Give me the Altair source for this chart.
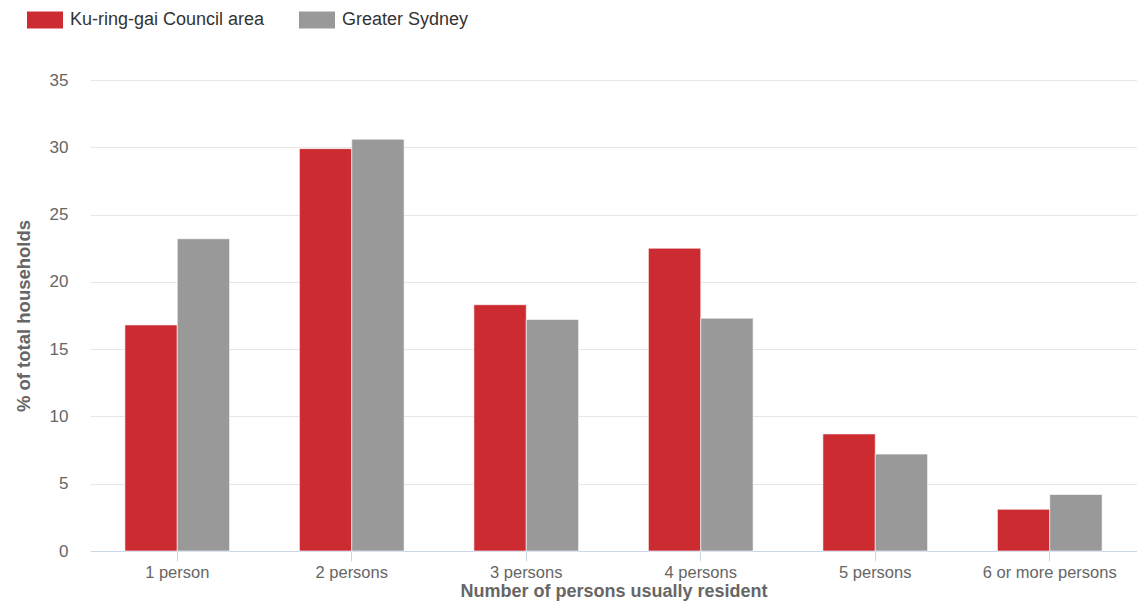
import altair as alt
import pandas as pd

categories = ["1 person", "2 persons", "3 persons", "4 persons", "5 persons", "6 or more persons"]
series = ["Ku-ring-gai Council area", "Greater Sydney"]
kuringgai = [16.8, 29.9, 18.3, 22.5, 8.7, 3.1]
sydney = [23.2, 30.6, 17.2, 17.3, 7.2, 4.2]
y_ticks = [0, 5, 10, 15, 20, 25, 30, 35]
colors = ["#cc2b31", "#999999"]

rows = []
for c, a, b in zip(categories, kuringgai, sydney):
    rows.append({"cat": c, "series": series[0], "value": a})
    rows.append({"cat": c, "series": series[1], "value": b})
df = pd.DataFrame(rows)

FONT = "Liberation Sans"

chart = alt.Chart(df).mark_bar(stroke="#ffffff", strokeWidth=0.6).encode(
    x=alt.X("cat:N", sort=categories,
            scale=alt.Scale(paddingInner=0.4, paddingOuter=0.2),
            axis=alt.Axis(title="Number of persons usually resident", labelAngle=0,
                          labelFontSize=16.5, labelColor="#666666", labelFont=FONT,
                          labelPadding=3, tickSize=10, tickColor="#ccd6eb",
                          domainColor="#ccd6eb", domainWidth=1, grid=False,
                          titleFontSize=18, titleFont=FONT, titleColor="#666666",
                          titleFontWeight="bold", titlePadding=2)),
    xOffset=alt.XOffset("series:N", sort=series),
    y=alt.Y("value:Q", scale=alt.Scale(domain=[0, 35], nice=False),
            axis=alt.Axis(title="% of total households", values=y_ticks,
                          labelFontSize=17, labelColor="#666666", labelFont=FONT,
                          labelPadding=22, ticks=False, domain=False,
                          gridColor="#e6e6e6", gridWidth=1,
                          titleFontSize=18.5, titleFont=FONT, titleColor="#666666",
                          titleFontWeight="bold", titlePadding=16)),
    color=alt.Color("series:N", sort=series,
                    scale=alt.Scale(domain=series, range=colors),
                    legend=alt.Legend(title=None, orient="none", direction="horizontal",
                                      legendX=-63, legendY=-78,
                                      symbolType="M-1,-0.47H1V0.47H-1Z", symbolSize=1296,
                                      symbolStrokeWidth=0, symbolOpacity=1,
                                      labelFontSize=18, labelFont=FONT, labelColor="#333333",
                                      labelOffset=7, labelLimit=0, columnPadding=34)),
).properties(
    width=1047, height=471,
    background="#ffffff",
    autosize=alt.AutoSizeParams(type="none"),
    padding={"left": 82, "top": 72, "right": 0, "bottom": 52},
).configure_view(stroke=None, strokeWidth=0)

chart.save("out.html", embed_options={"renderer": "svg", "actions": False})
